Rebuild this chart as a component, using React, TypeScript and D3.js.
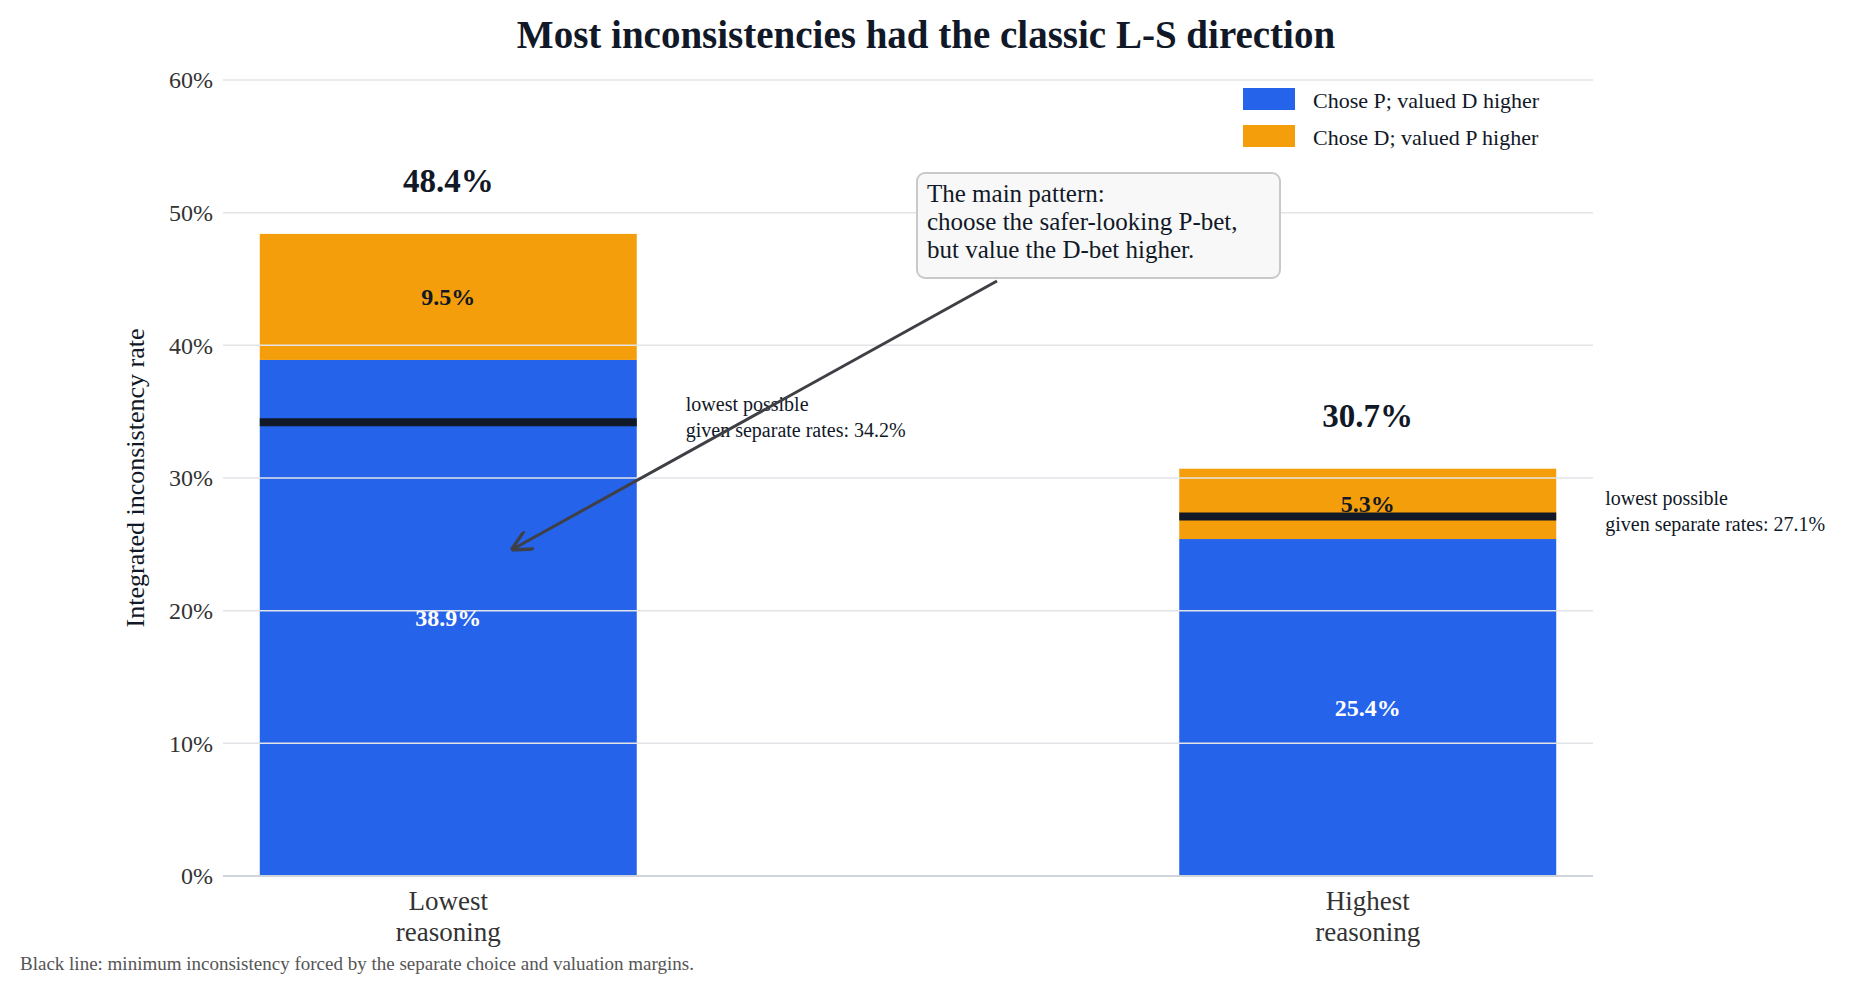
import * as React from 'react';
import * as d3 from 'd3';

const categories = ['Lowest\nreasoning', 'Highest\nreasoning'];
const choseP = [38.9, 25.4];
const choseD = [9.5, 5.3];
const totals = [48.4, 30.7];
const minLine = [34.2, 27.1];
const yTicks = [0, 10, 20, 30, 40, 50, 60];

const BLUE = '#2563eb';
const ORANGE = '#f59e0b';
const INK = '#111827';
const FONT = '"Liberation Serif", "Times New Roman", serif';

export default function App() {
    const W = 1852, H = 991;
    const m = { left: 223, right: 259, top: 80, bottom: 115 };
    const x = d3.scaleBand().domain(categories).range([m.left, W - m.right]).paddingInner(0.59).paddingOuter(0.04);
    const y = d3.scaleLinear().domain([0, 60]).range([H - m.bottom, m.top]);
    const bw = x.bandwidth();

    return (
        <svg width={W} height={H} style={{ position: 'absolute', left: 0, top: 0, fontFamily: FONT }}>
            <defs>
                <marker id="arr" viewBox="0 0 10 10" refX="9" refY="5" markerWidth="7" markerHeight="7" orient="auto">
                    <path d="M0,0 L10,5 L0,10" fill="none" stroke="#3f3f46" strokeWidth="1.6" />
                </marker>
            </defs>
            <text x={W / 2} y={48} textAnchor="middle" fontSize={39} fontWeight="bold" fill={INK}>
                Most inconsistencies had the classic L-S direction
            </text>
            {categories.map((c, i) => {
                const x0 = x(c)!;
                const cx = x0 + bw / 2;
                return (
                    <g key={c}>
                        <rect x={x0} width={bw} y={y(choseP[i])} height={y(0) - y(choseP[i])} fill={BLUE} />
                        <rect x={x0} width={bw} y={y(totals[i])} height={y(choseP[i]) - y(totals[i])} fill={ORANGE} />
                    </g>
                );
            })}
            {yTicks.map(t => (
                <g key={t}>
                    <line x1={m.left} x2={W - m.right} y1={y(t)} y2={y(t)} stroke={t === 0 ? '#cfd3da' : '#e2e4e8'} strokeWidth={t === 0 ? 2 : 1.5} />
                    <text x={m.left - 10} y={y(t)} dy="0.35em" textAnchor="end" fontSize={24} fill="#333">{t}%</text>
                </g>
            ))}
            {categories.map((c, i) => {
                const x0 = x(c)!;
                const cx = x0 + bw / 2;
                return (
                    <g key={'l' + c}>
                        <line x1={x0} x2={x0 + bw} y1={y(minLine[i])} y2={y(minLine[i])} stroke={INK} strokeWidth={8} />
                        <text x={cx} y={y(choseP[i] / 2)} dy="0.35em" textAnchor="middle" fontSize={24} fontWeight="bold" fill="#fff">{choseP[i]}%</text>
                        <text x={cx} y={y(choseP[i] + choseD[i] / 2)} dy="0.35em" textAnchor="middle" fontSize={24} fontWeight="bold" fill={INK}>{choseD[i]}%</text>
                        <text x={cx} y={y(totals[i]) - 42} textAnchor="middle" fontSize={33} fontWeight="bold" fill={INK}>{totals[i]}%</text>
                        <text x={x0 + bw + 49} y={y(minLine[i]) - 5 + (i === 0 ? 0 : 0)} fontSize={20} fill={INK}>
                            <tspan x={x0 + bw + 49} dy={i === 0 ? -6 : -6}>lowest possible</tspan>
                            <tspan x={x0 + bw + 49} dy="1.3em">given separate rates: {minLine[i]}%</tspan>
                        </text>
                        {c.split('\n').map((s, k) => (
                            <text key={k} x={cx} y={y(0) + 34 + k * 31} textAnchor="middle" fontSize={27} fill="#333">{s}</text>
                        ))}
                    </g>
                );
            })}
            <text transform={`translate(144,${y(30)}) rotate(-90)`} textAnchor="middle" fontSize={26} fill={INK}>Integrated inconsistency rate</text>
            <g>
                <rect x={1243} y={88} width={52} height={22} fill={BLUE} />
                <text x={1313} y={100} dy="0.35em" fontSize={22} fill={INK}>Chose P; valued D higher</text>
                <rect x={1243} y={125} width={52} height={22} fill={ORANGE} />
                <text x={1313} y={137} dy="0.35em" fontSize={22} fill={INK}>Chose D; valued P higher</text>
            </g>
            <line x1={997} y1={281} x2={513} y2={549} stroke="#3f3f46" strokeWidth={3} markerEnd="url(#arr)" />
            <rect x={917} y={173} width={363} height={105} rx={8} fill="#f8f8f8" stroke="#c9c9c9" strokeWidth={2} />
            <text fontSize={25} fill={INK}>
                <tspan x={927} y={202}>The main pattern:</tspan>
                <tspan x={927} y={230}>choose the safer-looking P-bet,</tspan>
                <tspan x={927} y={258}>but value the D-bet higher.</tspan>
            </text>
            <text x={20} y={970} fontSize={19} fill="#555">Black line: minimum inconsistency forced by the separate choice and valuation margins.</text>
        </svg>
    );
}
